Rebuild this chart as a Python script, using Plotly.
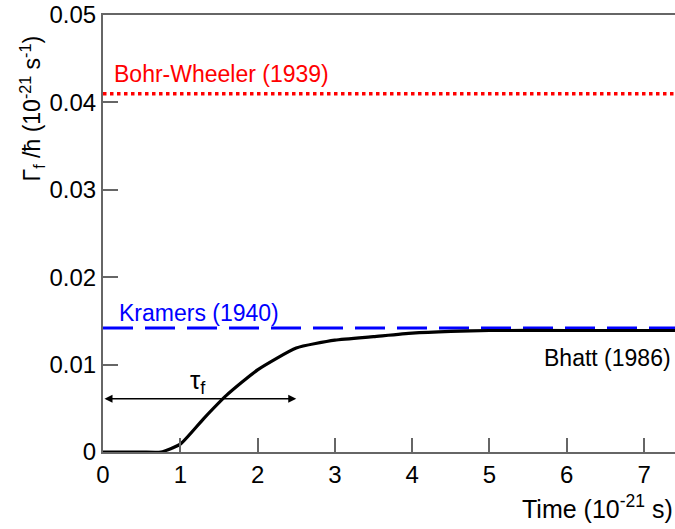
import plotly.graph_objects as go

# Data
time = [0.0, 0.5, 0.75, 1.0, 1.3, 1.6, 2.0, 2.5, 3.0, 3.5, 4.0, 4.5, 5.0, 6.0, 7.4]
rate = [0.0, 0.0, 0.0, 0.0009, 0.0038, 0.0065, 0.0094, 0.0119, 0.0128, 0.0132, 0.0136, 0.0138, 0.0139, 0.0139, 0.0139]
bohr_wheeler = 0.041
kramers = 0.0142
x_range = [0, 7.4]
y_range = [0, 0.05]
arrow_y = 0.0061
arrow_x = [0.0, 2.5]

font = "Liberation Sans, Arial, sans-serif"

fig = go.Figure()
fig.add_trace(go.Scatter(x=x_range, y=[bohr_wheeler] * 2, mode="lines",
                         line=dict(color="#ff0000", width=3.5, dash="dot"), showlegend=False))
fig.add_trace(go.Scatter(x=x_range, y=[kramers] * 2, mode="lines",
                         line=dict(color="#0000ff", width=3, dash="30px,12px"), showlegend=False))
fig.add_trace(go.Scatter(x=time, y=rate, mode="lines", line_shape="spline",
                         line=dict(color="black", width=3.2, smoothing=0.5), showlegend=False))

# double-headed arrow tau_f
fig.add_annotation(x=arrow_x[1], y=arrow_y, ax=arrow_x[0], ay=arrow_y, xref="x", yref="y",
                   axref="x", ayref="y", showarrow=True, arrowhead=2, arrowside="end+start",
                   arrowsize=1, arrowwidth=1.6, arrowcolor="black", text="")
fig.add_annotation(x=1.23, y=0.0081, xref="x", yref="y", showarrow=False,
                   text="τ<sub>f</sub>", font=dict(family=font, size=26, color="black"))

fig.add_annotation(x=0.11, y=0.0432, xref="x", yref="y", showarrow=False, xanchor="left",
                   text="Bohr-Wheeler (1939)", font=dict(family=font, size=23, color="#ff0000"))
fig.add_annotation(x=0.18, y=0.0159, xref="x", yref="y", showarrow=False, xanchor="left",
                   text="Kramers (1940)", font=dict(family=font, size=23, color="#0000ff"))
fig.add_annotation(x=7.37, y=0.0108, xref="x", yref="y", showarrow=False, xanchor="right",
                   text="Bhatt (1986)", font=dict(family=font, size=23, color="black"))

fig.add_annotation(x=1.0, y=-0.126, xref="paper", yref="paper", showarrow=False,
                   xanchor="right", yanchor="middle",
                   text="Time (10<sup>-21</sup> s)", font=dict(family=font, size=25, color="black"))
fig.add_annotation(x=-0.125, y=0.785, xref="paper", yref="paper", showarrow=False,
                   textangle=-90, xanchor="center", yanchor="middle",
                   text="Γ<sub>f</sub> /ħ (10<sup>-21</sup> s<sup>-1</sup>)",
                   font=dict(family=font, size=23, color="black"))

fig.update_xaxes(range=x_range, tickmode="array", tickvals=[0, 1, 2, 3, 4, 5, 6, 7],
                 ticks="inside", ticklen=14, tickcolor="#666", tickwidth=1.5,
                 showline=True, linecolor="#666", linewidth=2, mirror=True,
                 showgrid=False, zeroline=False,
                 tickfont=dict(family=font, size=24, color="black"))
fig.update_yaxes(range=y_range, tickmode="array", tickvals=[0, 0.01, 0.02, 0.03, 0.04, 0.05],
                 ticktext=["0", "0.01", "0.02", "0.03", "0.04", "0.05"],
                 ticks="inside", ticklen=15, tickcolor="#666", tickwidth=1.5,
                 showline=True, linecolor="#666", linewidth=2, mirror=False,
                 showgrid=False, zeroline=False,
                 tickfont=dict(family=font, size=24, color="black"))

fig.update_layout(width=675, height=529, margin=dict(l=103, r=0, t=15, b=77),
                  plot_bgcolor="white", paper_bgcolor="white")

fig.write_html("out.html")
